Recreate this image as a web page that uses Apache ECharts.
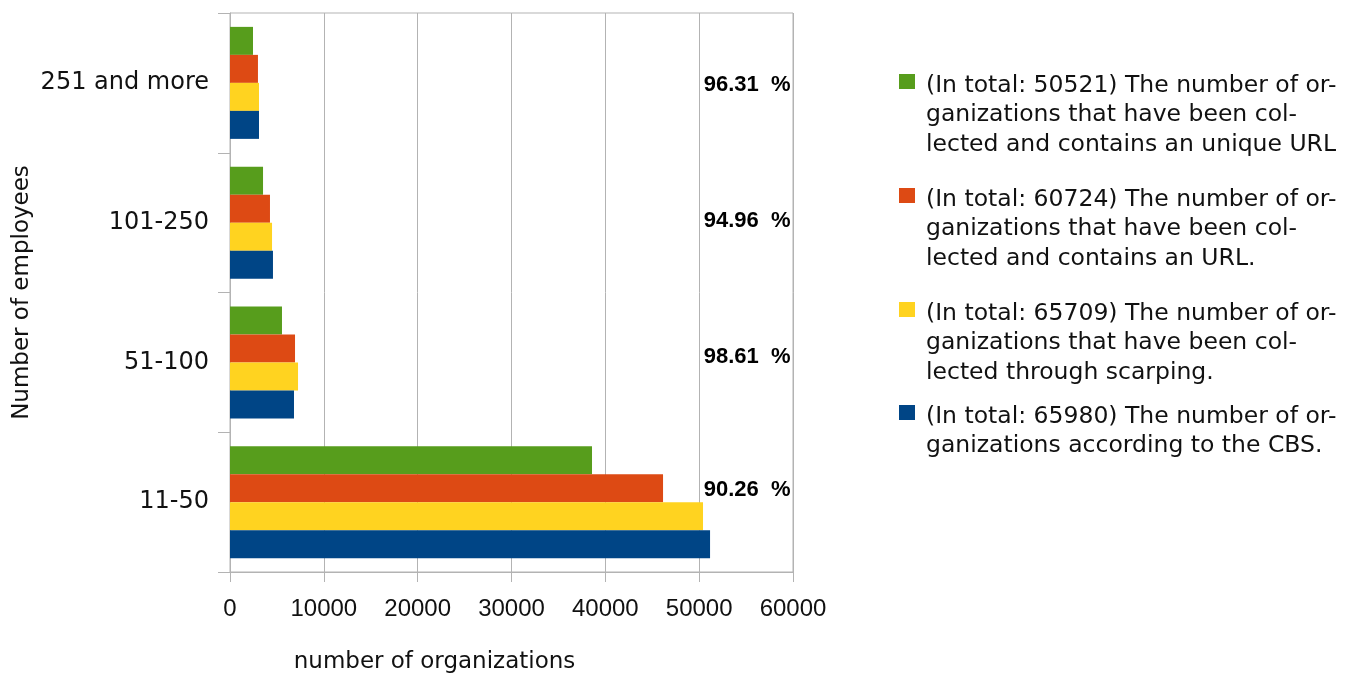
<!DOCTYPE html>
<html>
<head>
<meta charset="utf-8">
<script src="https://cdn.jsdelivr.net/npm/echarts@6/dist/echarts.min.js"></script>
<style>html,body{margin:0;padding:0;background:#fff;overflow:hidden;}#c{width:1354px;height:679px;}</style>
</head>
<body>
<div id="c"></div>
<script>
const categories = ['11-50', '51-100', '101-250', '251 and more'];
const seriesNames = [
  '(In total: 50521) The number of or-\nganizations that have been col-\nlected and contains an unique URL',
  '(In total: 60724) The number of or-\nganizations that have been col-\nlected and contains an URL.',
  '(In total: 65709) The number of or-\nganizations that have been col-\nlected through scarping.',
  '(In total: 65980) The number of or-\nganizations according to the CBS.'
];
const uniqueUrl = [38580, 5540, 3520, 2450];
const withUrl = [46150, 6930, 4260, 2980];
const scraped = [50410, 7250, 4480, 3090];
const cbs = [51160, 6820, 4580, 3090];
const percentLabels = ['90.26  %', '98.61  %', '94.96  %', '96.31  %'];
const xTicks = [0, 10000, 20000, 30000, 40000, 50000, 60000];
const colors = ['#579d1c', '#dd4a14', '#ffd320', '#004586'];

const wide = '"DejaVu Sans", sans-serif';
const narrow = '"Liberation Sans", Arial, sans-serif';
const textColor = '#111';
const chart = echarts.init(document.getElementById('c'), null, {renderer: 'canvas'});
const values = [uniqueUrl, withUrl, scraped, cbs];

const series = values.map((v, i) => ({
  name: seriesNames[i],
  type: 'bar',
  data: v,
  barWidth: 28,
  barGap: '0%',
  itemStyle: {color: colors[i]},
  animation: false
}));
const labelOffsets = [-12, -5, -2, 2];
series.push({
  type: 'scatter',
  symbolSize: 1,
  itemStyle: {color: 'rgba(0,0,0,0)', opacity: 1},
  data: percentLabels.map((t, i) => ({value: [xTicks[xTicks.length - 1], categories[i]], label: {offset: [0, labelOffsets[i]]}})),
  label: {
    show: true, position: 'left', distance: 2,
    formatter: p => percentLabels[p.dataIndex],
    fontFamily: narrow, fontSize: 22, fontWeight: 'bold', color: '#000', opacity: 1,
    textBorderWidth: 0
  },
  emphasis: {disabled: true},
  silent: true, animation: false
});

const legendGraphics = [];
const legendTops = [71, 185, 299, 402];
seriesNames.forEach((n, i) => {
  legendGraphics.push({
    type: 'rect', left: 899, top: legendTops[i] + 3,
    shape: {width: 16, height: 15}, style: {fill: colors[i]}
  });
  legendGraphics.push({
    type: 'text', left: 926, top: legendTops[i],
    style: {text: n, font: '23.5px ' + wide, fill: textColor, lineHeight: 29.5}
  });
});

chart.setOption({
  backgroundColor: '#fff',
  animation: false,
  grid: {left: 230, width: 563, top: 13, height: 562, show: true, borderColor: '#b3b3b3', borderWidth: 1},
  xAxis: {
    type: 'value', min: 0, max: 60000, interval: 10000,
    name: 'number of organizations', nameLocation: 'middle', nameGap: 79,
    nameTextStyle: {fontFamily: wide, fontSize: 23, color: textColor, padding: [0, 154, 0, 0]},
    axisLine: {show: true, lineStyle: {color: '#b3b3b3'}},
    axisTick: {show: true, length: 10, lineStyle: {color: '#b3b3b3'}},
    axisLabel: {fontFamily: narrow, fontSize: 24, color: textColor, margin: 25, formatter: v => String(v)},
    splitLine: {show: true, lineStyle: {color: '#b3b3b3', width: 1}}
  },
  yAxis: {
    type: 'category', data: categories,
    name: 'Number of employees', nameLocation: 'middle', nameGap: 196, nameRotate: 90,
    nameTextStyle: {fontFamily: wide, fontSize: 23, color: textColor},
    axisLine: {show: true, lineStyle: {color: '#b3b3b3'}},
    axisTick: {show: true, length: 12, lineStyle: {color: '#b3b3b3'}},
    axisLabel: {fontFamily: wide, fontSize: 24, color: textColor, margin: 21},
    splitLine: {show: false}
  },
  series: series,
  graphic: legendGraphics
});
</script>
</body>
</html>
